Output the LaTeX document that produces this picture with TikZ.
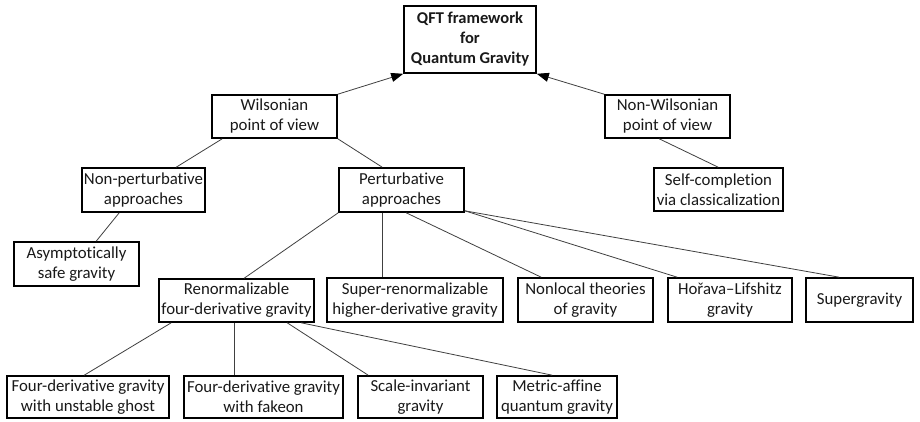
\documentclass[tikz,border=0pt]{standalone}
\usepackage{fontspec}
\setmainfont{Carlito}[Ligatures={NoCommon}]
\usetikzlibrary{arrows.meta}
\begin{document}
\begin{tikzpicture}[x=1pt,y=-1pt,
  box/.style={draw=black,line width=1.6pt,align=center,inner sep=0pt,
    font=\fontsize{16.8}{20}\selectfont,text=black!90},
  link/.style={draw=black!75,line width=0.8pt},
  arr/.style={link,-{Triangle[length=12pt,width=9pt,fill=black,color=black]}}]
\useasboundingbox (0,0) rectangle (920,421);
\fill[white] (0,0) rectangle (920,421);
% boxes: centre, width, height
\node[box,minimum width=132pt,minimum height=67pt,font=\fontsize{16.5}{20}\selectfont\bfseries] (qft) at (470,39.5) {QFT framework\\for\\Quantum Gravity};
\node[box,minimum width=125pt,minimum height=43pt] (wil) at (274.5,116.5) {Wilsonian\\point of view};
\node[box,minimum width=125pt,minimum height=43pt] (nonwil) at (667.5,116.5) {Non-Wilsonian\\point of view};
\node[box,minimum width=123pt,minimum height=44pt] (nonpert) at (143.5,190) {Non-perturbative\\approaches};
\node[box,minimum width=125pt,minimum height=44pt] (pert) at (401.5,190) {Perturbative\\approaches};
\node[box,minimum width=129pt,minimum height=43pt] (self) at (718.5,189.5) {Self-completion\\via classicalization};
\node[box,minimum width=125pt,minimum height=44pt] (asym) at (76.5,264) {Asymptotically\\safe gravity};
\node[box,minimum width=155pt,minimum height=43pt] (renorm) at (236.5,300.5) {Renormalizable\\four-derivative gravity};
\node[box,minimum width=176pt,minimum height=44pt] (super) at (415,300) {Super-renormalizable\\higher-derivative gravity};
\node[box,minimum width=135pt,minimum height=44pt] (nonlocal) at (585.5,300) {Nonlocal theories\\of gravity};
\node[box,minimum width=124pt,minimum height=44pt] (horava) at (730,300) {Hořava–Lifshitz\\gravity};
\node[box,minimum width=107pt,minimum height=44pt] (sugra) at (859.5,300) {Supergravity};
\node[box,minimum width=162pt,minimum height=42pt] (unstable) at (88,397) {Four-derivative gravity\\with unstable ghost};
\node[box,minimum width=159pt,minimum height=42pt] (fakeon) at (263.5,397) {Four-derivative gravity\\with fakeon};
\node[box,minimum width=125pt,minimum height=42pt] (scale) at (420.5,397) {Scale-invariant\\gravity};
\node[box,minimum width=120pt,minimum height=42pt] (metric) at (557,397) {Metric-affine\\quantum gravity};
% connectors
\draw[arr] (wil.north east) -- (qft.south west);
\draw[arr] (nonwil.north west) -- (qft.south east);
\draw[link] ([xshift=11pt]wil.south west) -- ([xshift=95pt]nonpert.north west);
\draw[link] (wil.south east) -- ([xshift=44pt]pert.north west);
\draw[link] ([xshift=38pt]nonpert.south west) -- ([xshift=83pt]asym.north west);
\draw[link] (pert.south west) -- ([xshift=86pt]renorm.north west);
\draw[link] ([xshift=44pt]pert.south west) -- ([xshift=56pt]super.north west);
\draw[link] ([xshift=68pt]pert.south west) -- ([xshift=24pt]nonlocal.north west);
\draw[link] ([yshift=2pt]pert.south east) -- ([xshift=10pt]horava.north west);
\draw[link] ([yshift=2pt]pert.south east) -- ([xshift=34pt]sugra.north west);
\draw[link] ([xshift=55pt]nonwil.south west) -- ([xshift=65pt]self.north west);
\draw[link] ([xshift=13pt]renorm.south west) -- ([xshift=78pt]unstable.north west);
\draw[link] ([xshift=76pt]renorm.south west) -- ([xshift=51pt]fakeon.north west);
\draw[link] ([xshift=129pt]renorm.south west) -- ([xshift=11pt]scale.north west);
\draw[link] ([xshift=143pt]renorm.south west) -- ([xshift=56pt]metric.north west);
\end{tikzpicture}
\end{document}
